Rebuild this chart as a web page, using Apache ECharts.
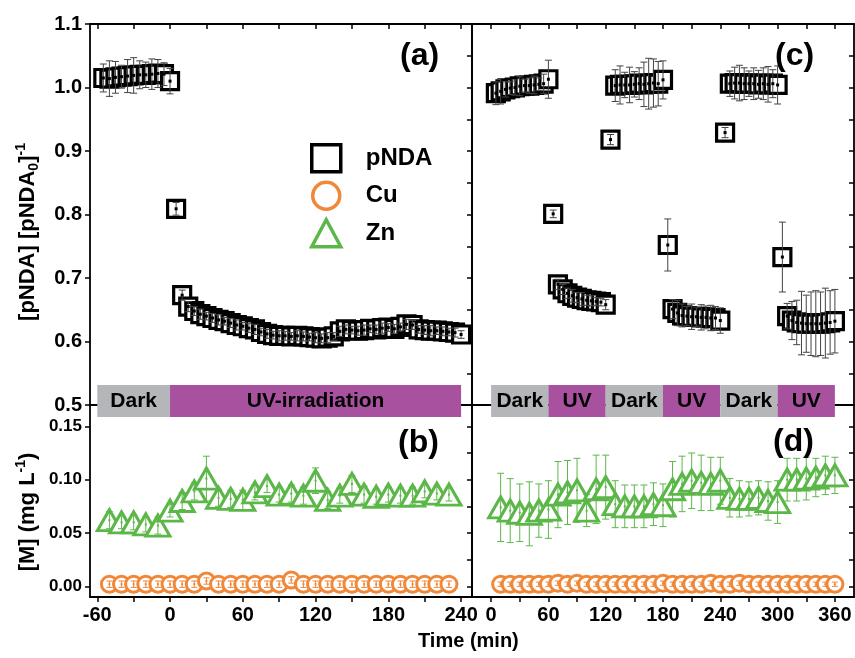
<!DOCTYPE html>
<html><head><meta charset="utf-8">
<script src="https://cdn.jsdelivr.net/npm/echarts@6/dist/echarts.min.js"></script>
<style>html,body{margin:0;padding:0;background:#fff}#c{width:855px;height:658px}</style>
</head><body><div id="c"></div><script>
// ---------- DATA ----------
// Panel (a): pNDA, continuous run
const tA = [-55,-50,-45,-40,-35,-30,-25,-20,-15,-10,-5,0,5,10,15,20,25,30,35,40,45,50,55,60,65,70,75,80,85,90,95,100,105,110,115,120,125,130,135,140,145,150,155,160,165,170,175,180,185,190,195,200,205,210,215,220,225,230,235,240];
const vA = [1.015,1.014,1.016,1.017,1.018,1.019,1.020,1.020,1.021,1.022,1.021,1.010,0.809,0.673,0.655,0.648,0.643,0.640,0.637,0.634,0.632,0.629,0.626,0.624,0.621,0.619,0.615,0.612,0.610,0.609,0.609,0.608,0.609,0.608,0.607,0.606,0.605,0.606,0.608,0.616,0.619,0.618,0.617,0.618,0.620,0.619,0.621,0.622,0.620,0.623,0.627,0.626,0.619,0.618,0.617,0.617,0.616,0.615,0.614,0.611];
const eA = [0.022,0.028,0.025,0.018,0.026,0.028,0.022,0.020,0.024,0.022,0.018,0.020,0.010,0.008,0.008,0.007,0.008,0.006,0.007,0.008,0.006,0.007,0.008,0.006,0.007,0.008,0.006,0.007,0.006,0.008,0.007,0.006,0.008,0.007,0.006,0.008,0.007,0.008,0.006,0.008,0.007,0.006,0.007,0.008,0.006,0.007,0.008,0.006,0.007,0.006,0.008,0.007,0.006,0.007,0.008,0.006,0.007,0.006,0.007,0.006];
// Panel (c): pNDA, alternating dark/UV
const tC = [5,10,15,20,25,30,35,40,45,50,55,60,65,70,75,80,85,90,95,100,105,110,115,120,125,130,135,140,145,150,155,160,165,170,175,180,185,190,195,200,205,210,215,220,225,230,235,240,245,250,255,260,265,270,275,280,285,290,295,300,305,310,315,320,325,330,335,340,345,350,355,360];
const vC = [0.991,0.994,0.997,0.999,1.000,1.002,1.003,1.003,1.004,1.005,1.006,1.013,
            0.801,0.690,0.682,0.676,0.672,0.669,0.667,0.665,0.664,0.663,0.662,0.658,
            0.918,1.003,1.004,1.004,1.004,1.005,1.006,1.005,1.006,1.007,1.006,1.012,
            0.752,0.651,0.645,0.641,0.640,0.639,0.639,0.638,0.638,0.637,0.637,0.633,
            0.929,1.006,1.007,1.007,1.006,1.006,1.006,1.005,1.006,1.005,1.006,1.004,
            0.733,0.640,0.633,0.630,0.629,0.628,0.628,0.628,0.628,0.629,0.630,0.632];
const eC = [0.018,0.020,0.012,0.010,0.012,0.015,0.010,0.012,0.014,0.010,0.015,0.030,
            0.006,0.008,0.008,0.008,0.010,0.008,0.010,0.008,0.008,0.006,0.006,0.008,
            0.008,0.025,0.030,0.020,0.028,0.020,0.025,0.035,0.040,0.038,0.035,0.030,
            0.041,0.015,0.020,0.018,0.015,0.020,0.015,0.020,0.018,0.020,0.018,0.020,
            0.008,0.020,0.025,0.028,0.025,0.020,0.025,0.022,0.025,0.028,0.022,0.030,
            0.055,0.020,0.030,0.035,0.050,0.045,0.050,0.052,0.050,0.055,0.050,0.050];
// Panel (b): metals, continuous run
const tB = [-50,-40,-30,-20,-10,0,10,20,30,40,50,60,70,80,90,100,110,120,130,140,150,160,170,180,190,200,210,220,230];
const znB = [0.062,0.060,0.060,0.058,0.057,0.071,0.080,0.089,0.101,0.083,0.082,0.081,0.088,0.094,0.086,0.087,0.085,0.099,0.081,0.085,0.096,0.086,0.084,0.086,0.085,0.085,0.089,0.087,0.086];
const znBe = [0.008,0.006,0.007,0.007,0.008,0.006,0.008,0.008,0.021,0.008,0.008,0.009,0.007,0.006,0.007,0.008,0.008,0.012,0.008,0.007,0.008,0.008,0.007,0.007,0.007,0.008,0.006,0.006,0.006];
const cuB = [0.002,0.002,0.002,0.002,0.002,0.002,0.002,0.002,0.005,0.002,0.002,0.002,0.002,0.002,0.002,0.006,0.002,0.002,0.002,0.002,0.002,0.002,0.002,0.002,0.002,0.002,0.002,0.002,0.002];
const cuBe = [0.003,0.003,0.003,0.003,0.003,0.003,0.003,0.003,0.003,0.003,0.003,0.003,0.003,0.003,0.003,0.003,0.003,0.003,0.003,0.003,0.003,0.003,0.003,0.003,0.003,0.003,0.003,0.003,0.003];
// Panel (d): metals, alternating dark/UV
const tD = [10,20,30,40,50,60,70,80,90,100,110,120,130,140,150,160,170,180,190,200,210,220,230,240,250,260,270,280,290,300,310,320,330,340,350,360];
const znD = [0.074,0.071,0.069,0.068,0.071,0.072,0.086,0.088,0.090,0.071,0.091,0.093,0.077,0.075,0.075,0.075,0.077,0.076,0.091,0.096,0.099,0.097,0.096,0.099,0.083,0.082,0.082,0.083,0.080,0.079,0.100,0.100,0.101,0.102,0.104,0.104];
const znDe = [0.032,0.030,0.027,0.030,0.025,0.027,0.031,0.030,0.030,0.015,0.032,0.030,0.022,0.020,0.020,0.020,0.020,0.020,0.026,0.026,0.026,0.026,0.025,0.022,0.018,0.017,0.016,0.016,0.018,0.020,0.020,0.020,0.020,0.018,0.018,0.017];
const cuD = [0.002,0.002,0.002,0.002,0.002,0.002,0.003,0.002,0.003,0.002,0.002,0.002,0.002,0.002,0.002,0.002,0.002,0.003,0.002,0.002,0.002,0.002,0.003,0.002,0.002,0.003,0.002,0.002,0.002,0.002,0.002,0.002,0.002,0.002,0.002,0.002];
const cuDe = [0.002,0.002,0.002,0.002,0.002,0.002,0.002,0.002,0.002,0.002,0.002,0.002,0.002,0.002,0.002,0.002,0.002,0.002,0.002,0.002,0.002,0.002,0.002,0.002,0.002,0.002,0.002,0.002,0.002,0.002,0.002,0.002,0.002,0.002,0.002,0.002];
// Condition bands
const bandL_start = [-60, 0];
const bandL_end = [0, 240];
const bandL_label = ['Dark', 'UV-irradiation'];
const bandR_start = [0, 60, 120, 180, 240, 300];
const bandR_end = [60, 120, 180, 240, 300, 360];
const bandR_label = ['Dark', 'UV', 'Dark', 'UV', 'Dark', 'UV'];
// Tick values / labels
const xLabelL = [-60, 0, 60, 120, 180, 240];
const xTickL = [-60, -30, 0, 30, 60, 90, 120, 150, 180, 210, 240];
const xLabelR = [0, 60, 120, 180, 240, 300, 360];
const xTickR = [0, 30, 60, 90, 120, 150, 180, 210, 240, 270, 300, 330, 360];
const yLabelTop = [0.5, 0.6, 0.7, 0.8, 0.9, 1.0, 1.1];
const yTickTop = [0.5, 0.55, 0.6, 0.65, 0.7, 0.75, 0.8, 0.85, 0.9, 0.95, 1.0, 1.05, 1.1];
const yLabelBot = [0, 0.05, 0.1, 0.15];
const yTickBot = [0, 0.025, 0.05, 0.075, 0.1, 0.125, 0.15];

// ---------- STYLE ----------
const FONT = '"Liberation Sans", Arial, sans-serif';
const GREEN = '#5cb749', ORANGE = '#f0883a', GRAY = '#b5b6b9', PURPLE = '#a8519f';
const LW = 1.8;

function zip3(a, b, c) { return a.map((x, i) => [x, b[i], c[i]]); }
function zip2(a, b) { return a.map((x, i) => [x, b[i]]); }

function errRender(color, cap, dot, dotColor) {
  return function (params, api) {
    const x = api.value(0), y = api.value(1), e = api.value(2);
    const c = api.coord([x, y]);
    const hi = api.coord([x, y + e]);
    const lo = api.coord([x, y - e]);
    const st = { stroke: color, lineWidth: 1, fill: null };
    return { type: 'group', children: [
      { type: 'line', shape: { x1: c[0], y1: hi[1], x2: c[0], y2: lo[1] }, style: st },
      { type: 'line', shape: { x1: c[0] - cap / 2, y1: hi[1], x2: c[0] + cap / 2, y2: hi[1] }, style: st },
      { type: 'line', shape: { x1: c[0] - cap / 2, y1: lo[1], x2: c[0] + cap / 2, y2: lo[1] }, style: st },
      { type: 'rect', shape: { x: c[0] - dot / 2, y: c[1] - dot / 2, width: dot, height: dot }, style: { fill: dotColor } }
    ]};
  };
}
function bandRender(starts, ends, labels) {
  return function (params, api) {
    const i = params.dataIndex;
    const p0 = api.coord([starts[i], 1]);
    const p1 = api.coord([ends[i], 0]);
    return { type: 'group', children: [
      { type: 'rect', shape: { x: p0[0], y: p0[1], width: p1[0] - p0[0], height: p1[1] - p0[1] },
        style: { fill: labels[i] === 'Dark' ? GRAY : PURPLE } },
      { type: 'text', style: { text: labels[i], x: (p0[0] + p1[0]) / 2, y: (p0[1] + p1[1]) / 2,
        textAlign: 'center', textVerticalAlign: 'middle', font: 'bold 21px ' + FONT, fill: '#000' } }
    ]};
  };
}

function frameX(grid, min, max, pos, extra) {
  return Object.assign({
    type: 'value', gridIndex: grid, min: min, max: max, position: pos,
    axisLine: { show: true, onZero: false, lineStyle: { color: '#000', width: LW } },
    axisTick: { show: false }, axisLabel: { show: false }, splitLine: { show: false }
  }, extra || {});
}
function frameY(grid, min, max, pos, extra) {
  return Object.assign({
    type: 'value', gridIndex: grid, min: min, max: max, position: pos,
    axisLine: { show: true, onZero: false, lineStyle: { color: '#000', width: LW } },
    axisTick: { show: false }, axisLabel: { show: false }, splitLine: { show: false }
  }, extra || {});
}
const tickIn = (vals) => ({ show: true, inside: true, length: 5, customValues: vals, lineStyle: { color: '#000', width: 1.5 } });
const tickOut = (vals) => ({ show: true, inside: false, length: 5, customValues: vals, lineStyle: { color: '#000', width: 1.5 } });

const XL = [-66, 249], XR = [-20, 380], YT = [0.5, 1.1], YB = [-0.01, 0.17];

const option = {
  animation: false,
  textStyle: { fontFamily: FONT },
  title: [
    { text: '(a)', left: 400, top: 40, padding: 0, textStyle: { fontSize: 32, fontWeight: 'bold', color: '#000', fontFamily: FONT } },
    { text: '(c)', left: 775, top: 40, padding: 0, textStyle: { fontSize: 32, fontWeight: 'bold', color: '#000', fontFamily: FONT } },
    { text: '(b)', left: 398, top: 427, padding: 0, textStyle: { fontSize: 32, fontWeight: 'bold', color: '#000', fontFamily: FONT } },
    { text: '(d)', left: 773, top: 426, padding: 0, textStyle: { fontSize: 32, fontWeight: 'bold', color: '#000', fontFamily: FONT } },
    { text: 'Time (min)', left: 418, top: 631, padding: 0, textStyle: { fontSize: 20, fontWeight: 'bold', color: '#000', fontFamily: FONT } }
  ],
  legend: {
    data: ['pNDA', 'Cu', 'Zn'], orient: 'vertical', left: 305, top: 138, itemGap: 7,
    itemWidth: 29, itemHeight: 27, selectedMode: false,
    itemStyle: { borderWidth: 3.5 },
    textStyle: { fontSize: 24, fontWeight: 'bold', color: '#000', fontFamily: FONT, padding: [0, 0, 0, 20] }
  },
  grid: [
    { left: 90, top: 24, width: 382, height: 381 },
    { left: 90, top: 405, width: 382, height: 192 },
    { left: 472, top: 24, width: 382, height: 381 },
    { left: 472, top: 405, width: 382, height: 192 },
    { left: 90, top: 385, width: 382, height: 32 },
    { left: 472, top: 385, width: 382, height: 32 }
  ],
  xAxis: [
    frameX(0, XL[0], XL[1], 'bottom'),
    frameX(0, XL[0], XL[1], 'top', { axisTick: tickIn(xTickL) }),
    frameX(1, XL[0], XL[1], 'bottom', {
      axisTick: tickOut(xTickL),
      axisLabel: { show: true, customValues: xLabelL, margin: 8, fontSize: 20, fontWeight: 'bold', color: '#000', fontFamily: FONT, formatter: v => String(v) }
    }),
    frameX(2, XR[0], XR[1], 'bottom'),
    frameX(2, XR[0], XR[1], 'top', { axisTick: tickIn(xTickR) }),
    frameX(3, XR[0], XR[1], 'bottom', {
      axisTick: tickOut(xTickR),
      axisLabel: { show: true, customValues: xLabelR, margin: 8, fontSize: 20, fontWeight: 'bold', color: '#000', fontFamily: FONT, formatter: v => String(v) }
    }),
    { type: 'value', gridIndex: 4, min: XL[0], max: XL[1], show: false },
    { type: 'value', gridIndex: 5, min: XR[0], max: XR[1], show: false }
  ],
  yAxis: [
    frameY(0, YT[0], YT[1], 'left', {
      axisTick: tickOut(yLabelTop),
      axisLabel: { show: true, customValues: yLabelTop, margin: 8, fontSize: 20, fontWeight: 'bold', color: '#000', fontFamily: FONT, formatter: v => v.toFixed(1) },
      name: '[pNDA] [pNDA{sub|0}]{sup|-1}', nameLocation: 'middle', nameRotate: 90, nameGap: 48,
      nameTextStyle: { fontSize: 22, fontWeight: 'bold', color: '#000', fontFamily: FONT, padding: [0, 35, 0, 0],
        rich: { sub: { fontSize: 14, fontWeight: 'bold', color: '#000', fontFamily: FONT, padding: [12, 0, 0, 0] },
                sup: { fontSize: 14, fontWeight: 'bold', color: '#000', fontFamily: FONT, padding: [0, 0, 14, 0] } } }
    }),
    frameY(0, YT[0], YT[1], 'right', { axisTick: tickIn(yTickTop) }),
    frameY(1, YB[0], YB[1], 'left', {
      axisTick: tickOut(yLabelBot),
      axisLabel: { show: true, customValues: yLabelBot, margin: 8, fontSize: 17, fontWeight: 'bold', color: '#000', fontFamily: FONT, formatter: v => v.toFixed(2) },
      name: '[M] (mg L{sup|-1})', nameLocation: 'middle', nameRotate: 90, nameGap: 48,
      nameTextStyle: { fontSize: 22, fontWeight: 'bold', color: '#000', fontFamily: FONT, padding: [0, 22, 0, 0],
        rich: { sup: { fontSize: 14, fontWeight: 'bold', color: '#000', fontFamily: FONT, padding: [0, 0, 14, 0] } } }
    }),
    frameY(1, YB[0], YB[1], 'right', { axisTick: tickIn(yTickBot) }),
    frameY(2, YT[0], YT[1], 'left'),
    frameY(2, YT[0], YT[1], 'right', { axisTick: tickIn(yTickTop) }),
    frameY(3, YB[0], YB[1], 'left'),
    frameY(3, YB[0], YB[1], 'right', { axisTick: tickIn(yTickBot) }),
    { type: 'value', gridIndex: 4, min: 0, max: 1, show: false },
    { type: 'value', gridIndex: 5, min: 0, max: 1, show: false }
  ],
  series: [
    // (a)
    { name: 'pNDA', type: 'scatter', xAxisIndex: 0, yAxisIndex: 0, data: zip2(tA, vA), symbol: 'rect', symbolSize: 17,
      itemStyle: { color: '#fff', borderColor: '#000', borderWidth: 3.2, opacity: 1 }, emphasis: { disabled: true }, z: 2 },
    { name: 'pNDA err a', type: 'custom', xAxisIndex: 0, yAxisIndex: 0, data: zip3(tA, vA, eA), encode: { x: 0, y: 1 },
      renderItem: errRender('#444', 7, 3, '#000'), z: 3, silent: true },
    // (c)
    { name: 'pNDA', type: 'scatter', xAxisIndex: 3, yAxisIndex: 4, data: zip2(tC, vC), symbol: 'rect', symbolSize: 17,
      itemStyle: { color: '#fff', borderColor: '#000', borderWidth: 3.2, opacity: 1 }, emphasis: { disabled: true }, z: 2 },
    { name: 'pNDA err c', type: 'custom', xAxisIndex: 3, yAxisIndex: 4, data: zip3(tC, vC, eC), encode: { x: 0, y: 1 },
      renderItem: errRender('#444', 7, 3, '#000'), z: 3, silent: true },
    // (b)
    { name: 'Cu', type: 'scatter', xAxisIndex: 2, yAxisIndex: 2, data: zip2(tB, cuB), symbol: 'circle', symbolSize: 16,
      itemStyle: { color: '#fff', borderColor: ORANGE, borderWidth: 3, opacity: 1 }, emphasis: { disabled: true }, z: 2 },
    { name: 'Cu err b', type: 'custom', xAxisIndex: 2, yAxisIndex: 2, data: zip3(tB, cuB, cuBe), encode: { x: 0, y: 1 },
      renderItem: errRender(ORANGE, 6, 2, ORANGE), z: 3, silent: true },
    { name: 'Zn', type: 'scatter', xAxisIndex: 2, yAxisIndex: 2, data: zip2(tB, znB), symbol: 'triangle', symbolSize: [24, 21],
      itemStyle: { color: '#fff', borderColor: GREEN, borderWidth: 3, opacity: 1 }, emphasis: { disabled: true }, z: 2 },
    { name: 'Zn err b', type: 'custom', xAxisIndex: 2, yAxisIndex: 2, data: zip3(tB, znB, znBe), encode: { x: 0, y: 1 },
      renderItem: errRender(GREEN, 7, 2, GREEN), z: 3, silent: true },
    // (d)
    { name: 'Cu', type: 'scatter', xAxisIndex: 5, yAxisIndex: 6, data: zip2(tD, cuD), symbol: 'circle', symbolSize: 16,
      itemStyle: { color: '#fff', borderColor: ORANGE, borderWidth: 3, opacity: 1 }, emphasis: { disabled: true }, z: 2 },
    { name: 'Cu err d', type: 'custom', xAxisIndex: 5, yAxisIndex: 6, data: zip3(tD, cuD, cuDe), encode: { x: 0, y: 1 },
      renderItem: errRender(ORANGE, 6, 2, ORANGE), z: 3, silent: true },
    { name: 'Zn', type: 'scatter', xAxisIndex: 5, yAxisIndex: 6, data: zip2(tD, znD), symbol: 'triangle', symbolSize: [24, 21],
      itemStyle: { color: '#fff', borderColor: GREEN, borderWidth: 3, opacity: 1 }, emphasis: { disabled: true }, z: 2 },
    { name: 'Zn err d', type: 'custom', xAxisIndex: 5, yAxisIndex: 6, data: zip3(tD, znD, znDe), encode: { x: 0, y: 1 },
      renderItem: errRender(GREEN, 7, 2, GREEN), z: 3, silent: true },
    // bands
    { name: 'bandL', type: 'custom', xAxisIndex: 6, yAxisIndex: 8, data: zip2(bandL_start, bandL_end), encode: { x: [0, 1] },
      renderItem: bandRender(bandL_start, bandL_end, bandL_label), clip: false, z: 5, silent: true },
    { name: 'bandR', type: 'custom', xAxisIndex: 7, yAxisIndex: 9, data: zip2(bandR_start, bandR_end), encode: { x: [0, 1] },
      renderItem: bandRender(bandR_start, bandR_end, bandR_label), clip: false, z: 5, silent: true }
  ]
};
const chart = echarts.init(document.getElementById('c'), null, { renderer: 'canvas' });
chart.setOption(option);
</script></body></html>
